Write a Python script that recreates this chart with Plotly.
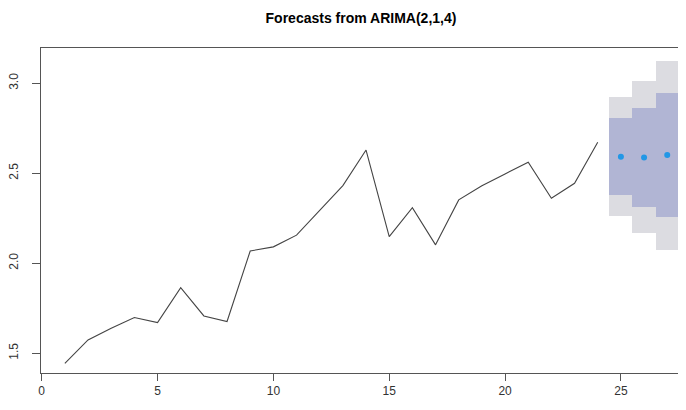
import plotly.graph_objects as go

# observed series
obs_x = list(range(1, 25))
obs_y = [1.444, 1.574, 1.639, 1.698, 1.670, 1.864, 1.707, 1.676, 2.068, 2.091,
         2.156, 2.296, 2.431, 2.629, 2.148, 2.309, 2.102, 2.352, 2.430, 2.496,
         2.561, 2.361, 2.444, 2.672]

# forecasts
fc_x = [25, 26, 27]
fc_mean = [2.591, 2.587, 2.602]
lo80 = [2.379, 2.311, 2.259]
hi80 = [2.809, 2.864, 2.944]
lo95 = [2.265, 2.167, 2.074]
hi95 = [2.922, 3.014, 3.126]

x_ticks = [0, 5, 10, 15, 20, 25]
y_ticks = [1.5, 2.0, 2.5, 3.0]
title = "Forecasts from ARIMA(2,1,4)"

W, H = 678, 402  # page body has an 8px margin

fig = go.Figure()
fig.add_trace(go.Bar(x=fc_x, y=[h - l for h, l in zip(hi95, lo95)], base=lo95,
                     width=1, marker=dict(color="#DCDCE1", line=dict(width=0)),
                     showlegend=False, hoverinfo="skip"))
fig.add_trace(go.Bar(x=fc_x, y=[h - l for h, l in zip(hi80, lo80)], base=lo80,
                     width=1, marker=dict(color="#B1B5D4", line=dict(width=0)),
                     showlegend=False, hoverinfo="skip"))
fig.add_trace(go.Scatter(x=obs_x, y=obs_y, mode="lines",
                         line=dict(color="#444444", width=1.1), showlegend=False))
fig.add_trace(go.Scatter(x=fc_x, y=fc_mean, mode="markers",
                         marker=dict(color="#2297E6", size=6), showlegend=False))

axis_font = dict(family="Liberation Sans, Arial, sans-serif", size=12, color="#333333")
fig.update_layout(
    width=W, height=H,
    margin=dict(l=33, r=0, t=40, b=37),
    paper_bgcolor="white", plot_bgcolor="white",
    barmode="overlay", bargap=0,
    title=dict(text="<b>" + title + "</b>", x=(361 - 8) / W, xref="container", xanchor="center",
               y=1 - 10 / H, yref="container", yanchor="middle",
               font=dict(family="Liberation Sans, Arial, sans-serif", size=14, color="#000000")),
    xaxis=dict(range=[-0.03, 27.81], tickvals=x_ticks, ticktext=[str(v) for v in x_ticks],
               showgrid=False, zeroline=False, showline=True, mirror=True,
               linecolor="#555555", linewidth=1, ticks="outside", ticklen=7,
               tickcolor="#555555", tickfont=axis_font),
    yaxis=dict(range=[1.39, 3.196], tickvals=y_ticks, ticktext=["1.5", "2.0", "2.5", "3.0"],
               showgrid=False, zeroline=False, showline=True, mirror=False,
               linecolor="#555555", linewidth=1, ticks="outside", ticklen=8,
               tickcolor="#555555", tickangle=-90, tickfont=axis_font,
               ticklabelstandoff=9),
)
fig.write_html("out.html")
